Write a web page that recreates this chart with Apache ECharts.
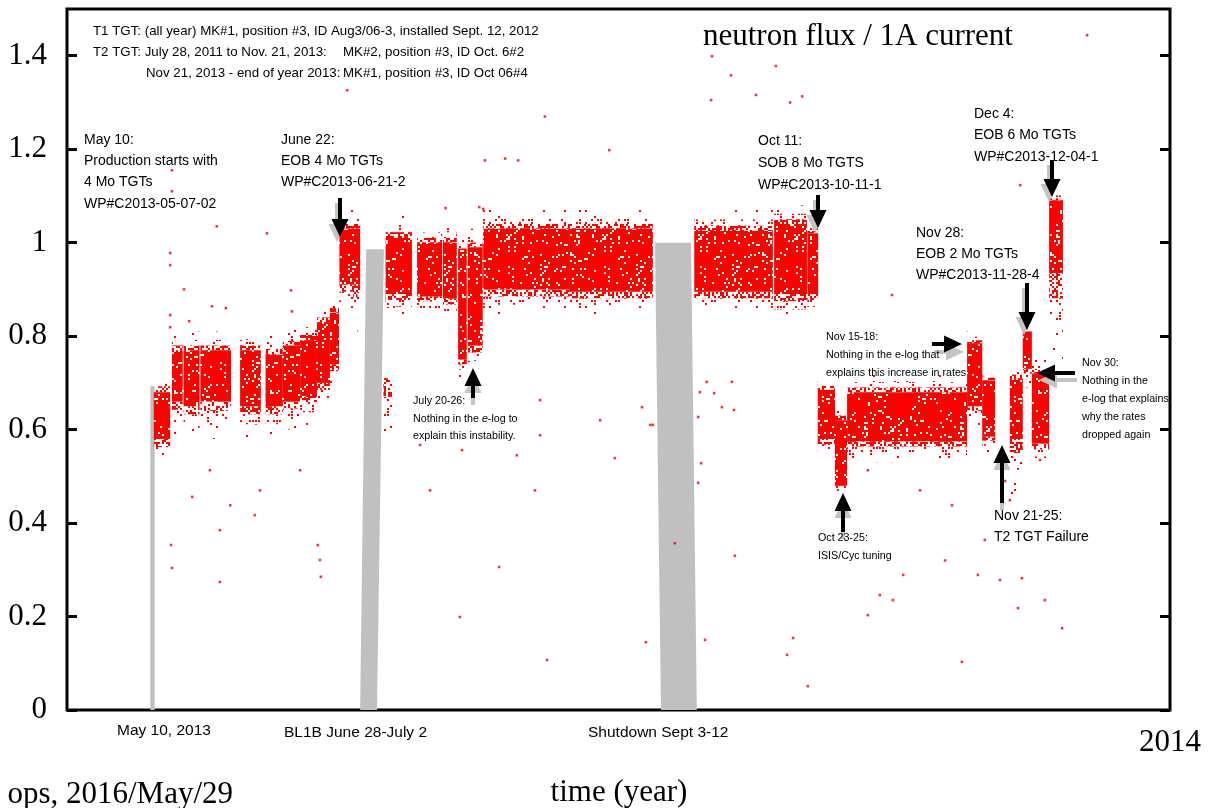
<!DOCTYPE html>
<html><head><meta charset="utf-8">
<script src="https://cdn.jsdelivr.net/npm/echarts@6/dist/echarts.min.js"></script>
<style>html,body{margin:0;padding:0;background:#fff}#c{width:1217px;height:808px}</style>
</head><body><div id="c"></div>
<script>
// ---- axis ticks (x in day-of-year 2013, 0 = Jan 1; 365 = Jan 1 2014)
const yTickValues = [0, 0.2, 0.4, 0.6, 0.8, 1, 1.2, 1.4];
const yTickLabels = ['0', '0.2', '0.4', '0.6', '0.8', '1', '1.2', '1.4'];
const xTickValues = [365];
const xTickLabels = ['2014'];

// ---- dense data bands: [dayStart, dayEnd, fringeLow, coreLow, coreHigh, fringeHigh]
const bands = [
  [129.6, 133.4, 0.51, 0.58, 0.68, 0.73],
  [133.8, 136.3, 0.59, 0.66, 0.77, 0.81],
  [136.5, 140.2, 0.58, 0.65, 0.77, 0.81],
  [140.4, 147.5, 0.58, 0.66, 0.77, 0.81],
  [149.6, 154.4, 0.58, 0.65, 0.77, 0.81],
  [155.5, 159.5, 0.58, 0.65, 0.76, 0.81],
  [159.5, 163.5, 0.60, 0.66, 0.78, 0.82],
  [163.5, 167.4, 0.61, 0.67, 0.79, 0.84],
  [167.4, 170.4, 0.64, 0.70, 0.83, 0.87],
  [170.4, 172.5, 0.68, 0.74, 0.85, 0.89],
  [172.6, 177.4, 0.85, 0.91, 1.03, 1.07],
  [175.8, 176.8, 0.80, 0.91, 0.91, 0.91],
  [182.8, 184.8, 0.55, 0.71, 0.71, 0.71],
  [183.3, 189.4, 0.84, 0.89, 1.01, 1.06],
  [190.6, 196.4, 0.84, 0.885, 1.00, 1.04],
  [196.6, 199.8, 0.83, 0.88, 1.00, 1.04],
  [200.1, 202.1, 0.71, 0.75, 0.98, 1.01],
  [202.3, 205.8, 0.72, 0.78, 0.99, 1.03],
  [205.9, 226.0, 0.84, 0.90, 1.03, 1.07],
  [226.0, 245.2, 0.84, 0.895, 1.03, 1.07],
  [254.8, 273.0, 0.84, 0.895, 1.025, 1.07],
  [273.3, 280.9, 0.83, 0.89, 1.04, 1.08],
  [281.0, 283.5, 0.84, 0.89, 1.02, 1.04],
  [283.4, 287.4, 0.53, 0.58, 0.685, 0.72],
  [287.4, 290.2, 0.46, 0.48, 0.62, 0.66],
  [290.2, 318.0, 0.53, 0.575, 0.68, 0.72],
  [318.0, 321.5, 0.61, 0.65, 0.785, 0.81],
  [321.5, 324.5, 0.55, 0.585, 0.705, 0.73],
  [327.9, 330.9, 0.46, 0.58, 0.71, 0.74],
  [330.9, 333.0, 0.69, 0.73, 0.81, 0.83],
  [333.0, 337.0, 0.52, 0.57, 0.72, 0.75],
  [337.0, 340.2, 0.72, 0.935, 1.09, 1.11]
];

// ---- grey beam-off shapes: [topStart, topEnd, topValue, bottomStart, bottomEnd]
const gapBars = [
  [128.8, 129.8, 0.693, 128.8, 129.8],
  [178.8, 182.9, 0.986, 177.4, 181.3],
  [245.7, 254.05, 1.0, 247.1, 255.4]
];

// ---- isolated points [day, value]
const outliers = [
  [345.8, 1.444], [258.9, 1.399], [273.7, 1.378], [263.3, 1.358], [269.1, 1.316],
  [279.8, 1.313], [258.7, 1.305], [277.0, 1.300], [174.4, 1.326], [220.2, 1.270],
  [133.8, 1.155], [133.8, 1.110], [144.2, 1.035], [155.8, 1.020], [133.4, 0.978],
  [133.4, 0.952], [136.6, 0.900], [143.1, 0.864], [146.3, 0.860], [161.4, 0.898],
  [161.6, 0.853], [133.4, 0.819], [133.4, 0.845], [137.8, 0.832], [138.5, 0.456],
  [144.9, 0.385], [144.9, 0.274], [133.6, 0.353], [133.8, 0.304], [167.6, 0.353],
  [168.1, 0.321], [168.3, 0.285], [200.5, 0.199], [220.7, 0.107], [257.3, 0.150],
  [281.1, 0.051], [276.3, 0.118], [295.0, 0.203], [316.8, 0.103], [329.8, 0.218],
  [330.7, 0.282], [340.0, 0.175], [336.0, 0.235], [219.1, 0.588], [217.9, 0.470],
  [209.6, 0.306], [201.0, 0.556], [213.7, 0.545], [245.2, 0.610], [256.1, 0.680],
  [264.2, 0.330], [250.3, 0.357], [297.8, 0.246], [300.8, 0.235], [312.9, 0.320],
  [320.5, 0.289], [325.6, 0.278], [303.2, 0.289], [322.1, 0.364], [142.6, 0.513],
  [147.3, 0.438], [154.2, 0.470], [153.0, 0.417], [163.5, 0.513], [191.3, 0.567],
  [193.6, 0.470], [233.0, 0.620], [236.4, 0.539], [219.1, 0.663], [295.0, 0.513],
  [307.1, 0.470], [314.5, 0.438], [334.9, 0.535], [330.3, 1.123], [197.2, 1.074],
  [205.0, 1.076], [205.9, 1.072], [211.0, 1.180], [214.0, 1.176], [206.3, 1.176],
  [235.1, 1.198], [300.6, 0.888], [326.8, 0.490], [327.9, 0.449], [255.7, 0.627],
  [256.4, 0.528], [255.7, 0.486], [257.7, 0.702], [259.4, 0.678], [261.2, 0.648],
  [263.5, 0.702], [264.0, 0.642], [277.7, 0.154], [243.6, 0.145], [244.6, 0.610],
  [242.7, 0.648]
];

// ---- texture tiles (fixed integer-hash stipple, used only as fill style)
const RED = '#ff0000';
function hash(i, j, s) {
  let h = Math.imul(i, 374761393) + Math.imul(j, 668265263) + Math.imul(s, 2654435761) | 0;
  h = Math.imul(h ^ (h >>> 13), 1274126177);
  h ^= h >>> 16;
  return (h >>> 0) % 1000 / 1000;
}
function stipple(size, cell, dot, density, seed) {
  const c = document.createElement('canvas');
  c.width = size; c.height = size;
  const g = c.getContext('2d');
  g.fillStyle = RED;
  const n = size / cell;
  for (let i = 0; i < n; i++) for (let j = 0; j < n; j++) {
    if (hash(i, j, seed) < density) g.fillRect(i * cell, j * cell, dot, dot);
  }
  return { image: c, repeat: 'repeat' };
}
const pCore = stipple(96, 2, 2, 0.92, 1);
const pInner = stipple(96, 2, 2, 0.5, 2);
const pMid = stipple(96, 3, 2, 0.2, 3);
const pOuter = stipple(96, 3, 2, 0.06, 4);

const SANS = '"Liberation Sans", Arial, Helvetica, sans-serif';
const SERIF = '"Liberation Serif", "Times New Roman", serif';

function txt(x, y, text, size) {
  return { type: 'text', z: 50,
    style: { x: x, y: y, text: text, fill: '#000', font: size + 'px ' + SANS,
             align: 'left', verticalAlign: 'middle', textAlign: 'left', textVerticalAlign: 'middle' } };
}
function serifTxt(x, y, text, size, align) {
  return { type: 'text', z: 50, style: { x: x, y: y, text: text, fill: '#000', font: size + 'px ' + SERIF,
    align: align, verticalAlign: 'middle', textAlign: align, textVerticalAlign: 'middle' } };
}
function arrowPts(x1, y1, x2, y2, hl, hw, sw) {
  const dx = x2 - x1, dy = y2 - y1, L = Math.hypot(dx, dy);
  const ux = dx / L, uy = dy / L, px = -uy, py = ux;
  const bx = x2 - ux * hl, by = y2 - uy * hl;
  return [
    [x1 + px * sw / 2, y1 + py * sw / 2], [bx + px * sw / 2, by + py * sw / 2],
    [bx + px * hw / 2, by + py * hw / 2], [x2, y2],
    [bx - px * hw / 2, by - py * hw / 2], [bx - px * sw / 2, by - py * sw / 2],
    [x1 - px * sw / 2, y1 - py * sw / 2]
  ];
}
function arrow(x1, y1, x2, y2, sdx, sdy) {
  return [
    { type: 'polygon', z: 40, shape: { points: arrowPts(x1 + sdx, y1 + sdy, x2 + sdx, y2 + sdy, 18, 17, 4) }, style: { fill: '#c4c4c4' } },
    { type: 'polygon', z: 41, shape: { points: arrowPts(x1, y1, x2, y2, 18, 17, 4) }, style: { fill: '#000' } }
  ];
}

const graphics = [].concat(
  arrow(340, 198, 340, 237, -3, 5),
  arrow(818, 195, 818, 228, -3, 5),
  arrow(1052, 160, 1052, 197, -3, 5),
  arrow(1027, 283, 1027, 330, -3, 5),
  arrow(473, 398, 473, 368, 0, 7),
  arrow(843, 532, 843, 493, 0, 7),
  arrow(1002, 503, 1002, 445, 0, 7),
  arrow(932, 344, 962, 344, 2, 8),
  arrow(1075, 373, 1037, 373, 2, 7),
  [
    txt(93, 31, 'T1 TGT: (all year) MK#1, position #3, ID Aug3/06-3, installed Sept. 12, 2012', 13.3),
    txt(93, 52, 'T2 TGT: July 28, 2011 to Nov. 21, 2013:', 13.3),
    txt(343, 52, 'MK#2, position #3, ID Oct. 6#2', 13.3),
    txt(146, 73, 'Nov 21, 2013 - end of year 2013:', 13.3),
    txt(343, 73, 'MK#1, position #3, ID Oct 06#4', 13.3),

    txt(84, 140, 'May 10:', 14), txt(84, 161, 'Production starts with', 14),
    txt(84, 182, '4 Mo TGTs', 14), txt(84, 204, 'WP#C2013-05-07-02', 14),

    txt(281, 140, 'June 22:', 14), txt(281, 161, 'EOB 4 Mo TGTs', 14), txt(281, 182, 'WP#C2013-06-21-2', 14),

    txt(758, 141, 'Oct 11:', 14), txt(758, 163, 'SOB 8 Mo TGTS', 14), txt(758, 185, 'WP#C2013-10-11-1', 14),

    txt(974, 114, 'Dec 4:', 14), txt(974, 135, 'EOB 6 Mo TGTs', 14), txt(974, 157, 'WP#C2013-12-04-1', 14),

    txt(916, 233, 'Nov 28:', 14), txt(916, 254, 'EOB 2 Mo TGTs', 14), txt(916, 275, 'WP#C2013-11-28-4', 14),

    txt(826, 337, 'Nov 15-18:', 10.7), txt(826, 355, 'Nothing in the e-log that', 10.7),
    txt(826, 373, 'explains this increase in rates', 10.7),

    txt(1082, 363, 'Nov 30:', 10.7), txt(1082, 381, 'Nothing in the', 10.7),
    txt(1082, 399, 'e-log that explains', 10.7), txt(1082, 417, 'why the rates', 10.7),
    txt(1082, 435, 'dropped again', 10.7),

    txt(818, 538, 'Oct 23-25:', 10.7), txt(818, 556, 'ISIS/Cyc tuning', 10.7),

    txt(994, 516, 'Nov 21-25:', 14), txt(994, 537, 'T2 TGT Failure', 14),

    txt(413, 401, 'July 20-26:', 10.7),
    { type: 'text', z: 50, style: { x: 413, y: 419, text: 'Nothing in the {i|e}-log to', fill: '#000',
      font: '10.7px ' + SANS, align: 'left', verticalAlign: 'middle',
      rich: { i: { fontStyle: 'italic', fontSize: 10.7, fontFamily: SANS } } } },
    txt(413, 436, 'explain this instability.', 10.7),

    txt(117, 731, 'May 10, 2013', 15.5),
    txt(284, 733, 'BL1B June 28-July 2', 15.5),
    txt(588, 733, 'Shutdown Sept 3-12', 15.5),

    serifTxt(703, 37, 'neutron flux / 1A current', 31, 'left'),
    serifTxt(619, 793, 'time (year)', 31, 'center'),
    serifTxt(233, 795, 'ops, 2016/May/29', 31, 'right')
  ]
);

function stripRects(x, w, yA, yB, pats, fr) {
  // split span yA..yB into strips (fractions fr), first pattern nearest yA
  const out = [];
  let acc = 0;
  for (let k = 0; k < pats.length; k++) {
    const y0 = yA + (yB - yA) * acc;
    acc += fr[k];
    const y1 = yA + (yB - yA) * acc;
    out.push({ type: 'rect', shape: { x: x, y: Math.min(y0, y1), width: w, height: Math.abs(y1 - y0) }, style: { fill: pats[k] } });
  }
  return out;
}
const FR = [0.25, 0.3, 0.45];

const chart = echarts.init(document.getElementById('c'), null, { renderer: 'canvas' });
chart.setOption({
  animation: false,
  backgroundColor: '#fff',
  grid: { left: 67, right: 47, top: 9, bottom: 98, show: true, borderColor: '#000', borderWidth: 3, backgroundColor: 'transparent' },
  xAxis: {
    type: 'value', min: 109.5, max: 365,
    axisLine: { show: false }, splitLine: { show: false },
    axisTick: { show: false },
    axisLabel: { customValues: xTickValues, margin: 17, color: '#000', fontFamily: SERIF, fontSize: 31,
      formatter: v => xTickLabels[xTickValues.indexOf(v)] || '' }
  },
  yAxis: [
    { type: 'value', min: 0, max: 1.5, position: 'left',
      axisLine: { show: false }, splitLine: { show: false },
      axisTick: { show: true, inside: true, length: 10, customValues: yTickValues, lineStyle: { color: '#000', width: 3 } },
      axisLabel: { customValues: yTickValues, margin: 20, color: '#000', fontFamily: SERIF, fontSize: 31,
        formatter: v => { const i = yTickValues.indexOf(v); return i >= 0 ? yTickLabels[i] : ''; } } },
    { type: 'value', min: 0, max: 1.5, position: 'right',
      axisLine: { show: false }, splitLine: { show: false },
      axisTick: { show: true, inside: true, length: 10, customValues: yTickValues, lineStyle: { color: '#000', width: 3 } },
      axisLabel: { show: false } }
  ],
  series: [
    { type: 'custom', name: 'beam off', z: 1, silent: true,
      data: gapBars,
      encode: { x: [0, 1, 3, 4], y: 2 },
      renderItem: function (params, api) {
        const a = api.coord([api.value(0), api.value(2)]);
        const b = api.coord([api.value(1), api.value(2)]);
        const c = api.coord([api.value(4), 0]);
        const d = api.coord([api.value(3), 0]);
        return { type: 'polygon', shape: { points: [a, b, c, d] }, style: { fill: '#c0c0c0' } };
      } },
    { type: 'custom', name: 'flux bands', z: 2, silent: true,
      data: bands,
      encode: { x: [0, 1], y: [2, 5] },
      renderItem: function (params, api) {
        const d0 = api.value(0), d1 = api.value(1);
        const pFhi = api.coord([d0, api.value(5)]), pChi = api.coord([d0, api.value(4)]);
        const pClo = api.coord([d0, api.value(3)]), pFlo = api.coord([d0, api.value(2)]);
        const xR = api.coord([d1, 0])[0];
        const x = pFhi[0], w = xR - x;
        const kids = [];
        stripRects(x, w, pChi[1], pFhi[1], [pInner, pMid, pOuter], FR).forEach(r => kids.push(r));
        stripRects(x, w, pClo[1], pFlo[1], [pInner, pMid, pOuter], FR).forEach(r => kids.push(r));
        kids.push({ type: 'rect', shape: { x: x, y: pChi[1], width: w, height: pClo[1] - pChi[1] }, style: { fill: pCore } });
        return { type: 'group', children: kids };
      } },
    { type: 'scatter', name: 'isolated', z: 3, silent: true,
      data: outliers, symbol: 'rect', symbolSize: 2.6,
      itemStyle: { color: RED } }
  ],
  graphic: graphics
});
</script>
</body></html>
